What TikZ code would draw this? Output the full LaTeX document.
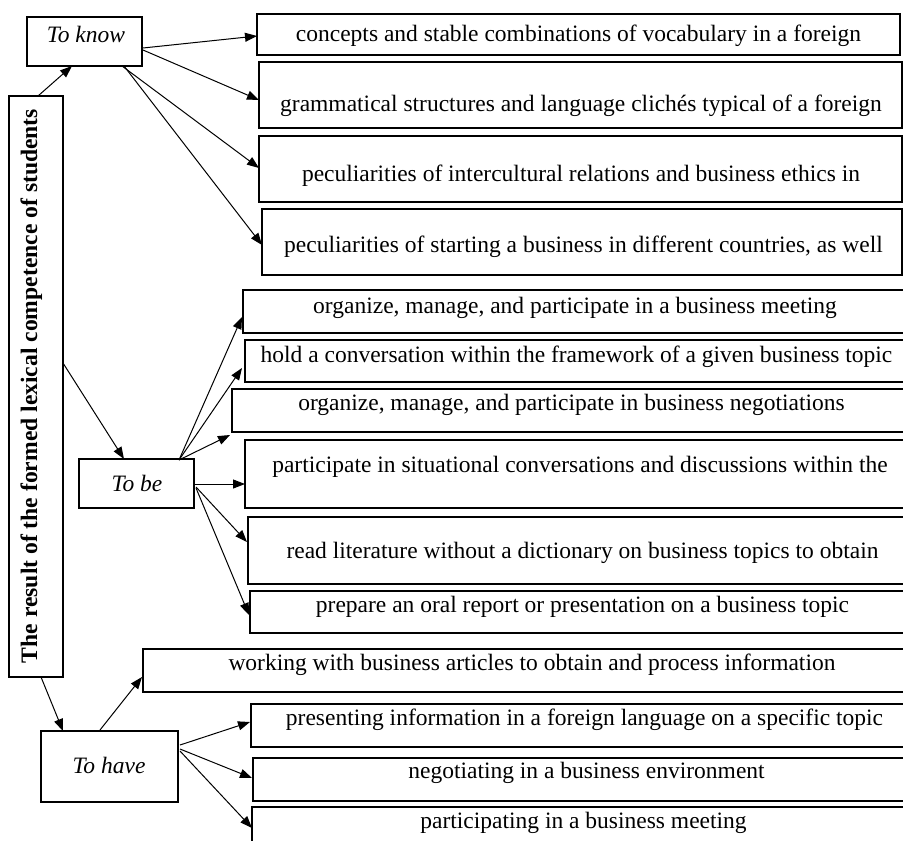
\documentclass[tikz,border=0pt]{standalone}
\usepackage{fontspec}
\setmainfont{Liberation Serif}
\usetikzlibrary{arrows.meta,calc}
\begin{document}
\begin{tikzpicture}[x=1pt,y=-1pt,
  box/.style={draw, line width=1.7pt, rectangle, inner sep=0pt, outer sep=0pt, anchor=north west},
  txt/.style={font=\fontsize{23.5}{27}\selectfont, inner sep=0pt, anchor=base},
  lbl/.style={font=\fontsize{23.5}{27}\selectfont\itshape, inner sep=0pt, anchor=base},
  arr/.style={-{Triangle[length=12pt,width=9pt]}, line width=1pt}]
\useasboundingbox (0,0) rectangle (903,841);
\clip (0,0) rectangle (903,841);
% left column
\node[box, minimum width=54, minimum height=581] (main) at (9,96) {};
\node[box, minimum width=115, minimum height=49] (know) at (27,17) {};
\node[box, minimum width=115, minimum height=49] (tobe) at (79,459) {};
\node[box, minimum width=137, minimum height=71] (tohave) at (41,731) {};
\node[lbl] (lknow) at (86,42) {To know};
\node[lbl] (ltobe) at (137,491) {To be};
\node[lbl] (lhave) at (109,773) {To have};
\node[font=\fontsize{23.6}{27}\selectfont\bfseries, inner sep=0pt, anchor=base, rotate=90] (lmain) at (37,386) {The result of the formed lexical competence of students};
% right boxes
\node[box, minimum width=643, minimum height=41] (b1) at (257,14) {};
\node[box, minimum width=643, minimum height=66] (b2) at (259,62) {};
\node[box, minimum width=643, minimum height=66] (b3) at (259,136) {};
\node[box, minimum width=640, minimum height=66] (b4) at (262,209) {};
\node[box, minimum width=667, minimum height=43] (b5) at (243,290) {};
\node[box, minimum width=665, minimum height=42] (b6) at (245,340) {};
\node[box, minimum width=678, minimum height=43] (b7) at (232,389) {};
\node[box, minimum width=665, minimum height=68] (b8) at (245,440) {};
\node[box, minimum width=662, minimum height=67] (b9) at (248,517) {};
\node[box, minimum width=660, minimum height=42] (b10) at (250,591) {};
\node[box, minimum width=767, minimum height=43] (b11) at (143,649) {};
\node[box, minimum width=659, minimum height=43] (b12) at (251,704) {};
\node[box, minimum width=657, minimum height=43] (b13) at (253,758) {};
\node[box, minimum width=658, minimum height=60] (b14) at (252,807) {};
% texts
\node[txt] (t1) at (578.5,41) {concepts and stable combinations of vocabulary in a foreign};
\node[txt] (t2) at (581,111) {grammatical structures and language clichés typical of a foreign};
\node[txt] (t3) at (581,181) {peculiarities of intercultural relations and business ethics in};
\node[txt] (t4) at (583.5,252) {peculiarities of starting a business in different countries, as well};
\node[txt] (t5) at (575,313) {organize, manage, and participate in a business meeting};
\node[txt] (t6) at (576.5,362) {hold a conversation within the framework of a given business topic};
\node[txt] (t7) at (571.5,410) {organize, manage, and participate in business negotiations};
\node[txt] (t8) at (580,472) {participate in situational conversations and discussions within the};
\node[txt] (t9) at (582.5,558) {read literature without a dictionary on business topics to obtain};
\node[txt] (t10) at (582.5,612) {prepare an oral report or presentation on a business topic};
\node[txt] (t11) at (532,670) {working with business articles to obtain and process information};
\node[txt] (t12) at (584.5,725) {presenting information in a foreign language on a specific topic};
\node[txt] (t13) at (586.5,778) {negotiating in a business environment};
\node[txt] (t14) at (583.5,828) {participating in a business meeting};
% main arrows
\draw[arr] ($(main.north west)+(29,0)$) -- ($(know.south west)+(45,0)$);
\draw[arr] ($(main.north east)+(0,267)$) -- ($(tobe.north west)+(45,0)$);
\draw[arr] ($(main.south west)+(32,0)$) -- ($(tohave.north west)+(22,0)$);
% know arrows
\draw[arr] ($(know.north east)+(1,31)$) -- ($(b1.north west)+(0,22)$);
\draw[arr] ($(know.north east)+(1,33)$) -- ($(b2.north west)+(0,38)$);
\draw[arr] ($(know.south east)+(-20,0)$) -- ($(b3.north west)+(0,32)$);
\draw[arr] ($(know.south east)+(-18,0)$) -- ($(b4.north west)+(0,36)$);
% to be arrows
\coordinate (sbe) at ($(tobe.north east)+(-15,1)$);
\draw[arr] (sbe) -- ($(b5.north west)+(-1,27)$);
\draw[arr] (sbe) -- ($(b6.north west)+(-3,28)$);
\draw[arr] (sbe) -- ($(b7.south west)+(-2,3)$);
\draw[arr] ($(tobe.north east)+(1,25)$) -- ($(b8.north west)+(0,44)$);
\draw[arr] ($(tobe.north east)+(2,28)$) -- ($(b9.north west)+(-1,25)$);
\draw[arr] ($(tobe.north east)+(2,29)$) -- ($(b10.north west)+(-1,24)$);
% to have arrows
\draw[arr] ($(tohave.north west)+(59,-1)$) -- ($(b11.north west)+(-1,28)$);
\draw[arr] ($(tohave.north east)+(2,14)$) -- ($(b12.north west)+(-1,18)$);
\draw[arr] ($(tohave.north east)+(2,18)$) -- ($(b13.north west)+(-1,20)$);
\draw[arr] ($(tohave.north east)+(2,20)$) -- ($(b14.north west)+(0,21)$);
\end{tikzpicture}
\end{document}
